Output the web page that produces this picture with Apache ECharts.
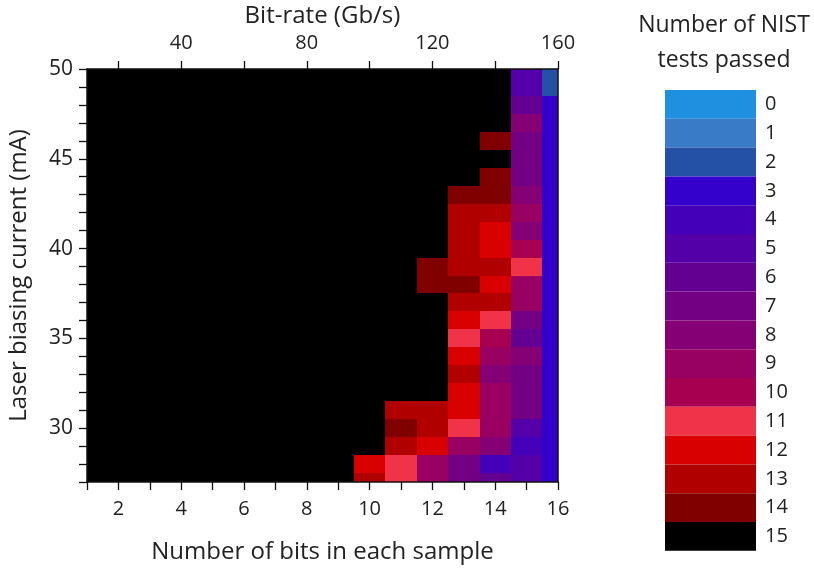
<!DOCTYPE html>
<html>
<head>
<meta charset="utf-8">
<script src="https://cdn.jsdelivr.net/npm/echarts@6/dist/echarts.min.js"></script>
<style>
  html, body { margin: 0; padding: 0; background: #fff; }
  #chart { width: 814px; height: 570px; }
</style>
</head>
<body>
<div id="chart"></div>
<script>
// number of bits per sample (x) and laser current in mA (y, top row first)
const bits = [1, 2, 3, 4, 5, 6, 7, 8, 9, 10, 11, 12, 13, 14, 15, 16];
const currents = [50, 49, 48, 47, 46, 45, 44, 43, 42, 41, 40, 39, 38, 37, 36, 35, 34, 33, 32, 31, 30, 29, 28, 27];

// NIST tests passed, one row per current, one column per bit count
const testsPassed = [
  [15, 15, 15, 15, 15, 15, 15, 15, 15, 15, 15, 15, 15, 15, 5, 2],
  [15, 15, 15, 15, 15, 15, 15, 15, 15, 15, 15, 15, 15, 15, 5, 2],
  [15, 15, 15, 15, 15, 15, 15, 15, 15, 15, 15, 15, 15, 15, 6, 3],
  [15, 15, 15, 15, 15, 15, 15, 15, 15, 15, 15, 15, 15, 15, 8, 3],
  [15, 15, 15, 15, 15, 15, 15, 15, 15, 15, 15, 15, 15, 14, 7, 3],
  [15, 15, 15, 15, 15, 15, 15, 15, 15, 15, 15, 15, 15, 15, 7, 3],
  [15, 15, 15, 15, 15, 15, 15, 15, 15, 15, 15, 15, 15, 14, 7, 3],
  [15, 15, 15, 15, 15, 15, 15, 15, 15, 15, 15, 15, 14, 14, 8, 3],
  [15, 15, 15, 15, 15, 15, 15, 15, 15, 15, 15, 15, 13, 13, 9, 3],
  [15, 15, 15, 15, 15, 15, 15, 15, 15, 15, 15, 15, 13, 12, 8, 3],
  [15, 15, 15, 15, 15, 15, 15, 15, 15, 15, 15, 15, 13, 12, 10, 3],
  [15, 15, 15, 15, 15, 15, 15, 15, 15, 15, 15, 14, 13, 13, 11, 3],
  [15, 15, 15, 15, 15, 15, 15, 15, 15, 15, 15, 14, 14, 12, 9, 3],
  [15, 15, 15, 15, 15, 15, 15, 15, 15, 15, 15, 15, 13, 13, 9, 3],
  [15, 15, 15, 15, 15, 15, 15, 15, 15, 15, 15, 15, 12, 11, 7, 3],
  [15, 15, 15, 15, 15, 15, 15, 15, 15, 15, 15, 15, 11, 10, 6, 3],
  [15, 15, 15, 15, 15, 15, 15, 15, 15, 15, 15, 15, 12, 9, 8, 3],
  [15, 15, 15, 15, 15, 15, 15, 15, 15, 15, 15, 15, 13, 8, 7, 3],
  [15, 15, 15, 15, 15, 15, 15, 15, 15, 15, 15, 15, 12, 9, 7, 3],
  [15, 15, 15, 15, 15, 15, 15, 15, 15, 15, 13, 13, 12, 9, 7, 3],
  [15, 15, 15, 15, 15, 15, 15, 15, 15, 15, 14, 13, 11, 9, 5, 3],
  [15, 15, 15, 15, 15, 15, 15, 15, 15, 15, 13, 12, 9, 8, 4, 3],
  [15, 15, 15, 15, 15, 15, 15, 15, 15, 12, 11, 9, 7, 4, 5, 3],
  [15, 15, 15, 15, 15, 15, 15, 15, 15, 13, 11, 9, 7, 6, 5, 3]
];

const levels = [0, 1, 2, 3, 4, 5, 6, 7, 8, 9, 10, 11, 12, 13, 14, 15];
const levelColors = ['#1f8fe0', '#3a7bc8', '#2450a5', '#3300cc', '#4300b8', '#5300a8', '#630092', '#730082',
  '#850075', '#980062', '#a80050', '#f03348', '#d80000', '#b00000', '#800000', '#000000'];

const bottomLabels = [2, 4, 6, 8, 10, 12, 14, 16];
const leftLabels = [30, 35, 40, 45, 50];
const topTicks = [20, 40, 60, 80, 100, 120, 140, 160];
const topLabels = [40, 80, 120, 160];

let data = [];
currents.forEach(function (mA, i) {
  bits.forEach(function (b, j) {
    data.push([b, mA, testsPassed[i][j]]);
  });
});

const font = 'Open Sans';
const textColor = '#222';

function renderCell(params, api) {
  let x = api.value(0), y = api.value(1);
  let p0 = api.coord([x - 0.5, y + 0.5]);
  let p1 = api.coord([x + 0.5, y - 0.5]);
  // snap to whole pixels so neighbouring cells leave no seams
  let x0 = Math.round(p0[0]), y0 = Math.round(p0[1]);
  let x1 = Math.round(p1[0]), y1 = Math.round(p1[1]);
  let cs = params.coordSys;
  let shape = echarts.graphic.clipRectByRect(
    {x: x0, y: y0, width: x1 - x0, height: y1 - y0},
    {x: cs.x, y: cs.y, width: cs.width, height: cs.height}
  );
  if (!shape) return;
  return {type: 'rect', shape: shape, style: {fill: api.visual('color')}};
}

let axisLine = {show: true, lineStyle: {color: '#111', width: 1.5}};
let ticks = {show: true, inside: false, length: 8, lineStyle: {color: '#111', width: 1.3}};

let option = {
  backgroundColor: '#fff',
  animation: false,
  textStyle: {fontFamily: font},
  title: {
    text: 'Number of NIST\ntests passed',
    left: 719,
    top: 3,
    textAlign: 'center',
    textStyle: {fontFamily: font, fontSize: 23, fontWeight: 'normal', color: textColor, lineHeight: 35}
  },
  grid: {left: 87, top: 69, width: 471, height: 413, outerBoundsMode: 'none', containLabel: false},
  xAxis: [{
    type: 'value',
    position: 'bottom',
    min: 1, max: 16, interval: 1,
    z: 5,
    name: 'Number of bits in each sample',
    nameLocation: 'middle',
    nameGap: 58,
    nameTextStyle: {fontFamily: font, fontSize: 24, color: textColor},
    axisLine: axisLine,
    axisTick: ticks,
    axisLabel: {customValues: bottomLabels, margin: 17, fontFamily: font, fontSize: 20, color: textColor},
    splitLine: {show: false}
  }, {
    type: 'value',
    position: 'top',
    min: 10, max: 160,
    z: 5,
    name: 'Bit-rate (Gb/s)',
    nameLocation: 'middle',
    nameGap: 38,
    nameTextStyle: {fontFamily: font, fontSize: 24, color: textColor},
    axisLine: axisLine,
    axisTick: Object.assign({customValues: topTicks}, ticks),
    axisLabel: {customValues: topLabels, margin: 16, fontFamily: font, fontSize: 20, color: textColor},
    splitLine: {show: false}
  }],
  yAxis: [{
    type: 'value',
    position: 'left',
    min: 27, max: 50, interval: 1,
    z: 5,
    name: 'Laser biasing current (mA)',
    nameLocation: 'middle',
    nameGap: 56,
    nameTextStyle: {fontFamily: font, fontSize: 24, color: textColor},
    axisLine: axisLine,
    axisTick: ticks,
    axisLabel: {customValues: leftLabels, margin: 14, fontFamily: font, fontSize: 21, color: textColor},
    splitLine: {show: false}
  }, {
    type: 'value',
    position: 'right',
    min: 27, max: 50,
    z: 5,
    axisLine: axisLine,
    axisTick: {show: false},
    axisLabel: {show: false},
    splitLine: {show: false}
  }],
  visualMap: {
    type: 'piecewise',
    dimension: 2,
    seriesIndex: 0,
    orient: 'vertical',
    inverse: true,
    align: 'left',
    left: 650,
    top: 75,
    itemWidth: 91,
    itemHeight: 28.8,
    itemGap: 0,
    textGap: 9,
    itemSymbol: 'rect',
    selectedMode: false,
    hoverLink: false,
    pieces: levels.map(function (v, i) {
      return {value: v, label: String(v), color: levelColors[i]};
    }),
    textStyle: {fontFamily: font, fontSize: 20, color: textColor}
  },
  series: [{
    type: 'custom',
    xAxisIndex: 0,
    yAxisIndex: 0,
    z: 1,
    renderItem: renderCell,
    encode: {x: 0, y: 1},
    data: data
  }]
};

let chart = echarts.init(document.getElementById('chart'));
chart.setOption(option);
</script>
</body>
</html>
